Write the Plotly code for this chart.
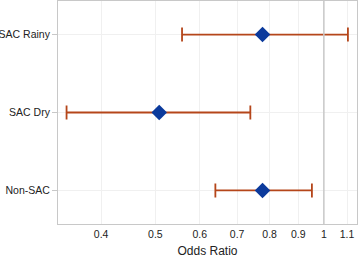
import plotly.graph_objects as go
import numpy as np

categories = ["SAC Rainy", "SAC Dry", "Non-SAC"]
estimate = [0.777, 0.508, 0.777]
lower = [0.558, 0.347, 0.640]
upper = [1.104, 0.739, 0.952]
tick_vals = [0.4, 0.5, 0.6, 0.7, 0.8, 0.9, 1, 1.1]
tick_text = ["0.4", "0.5", "0.6", "0.7", "0.8", "0.9", "1", "1.1"]

err_plus = [u - e for u, e in zip(upper, estimate)]
err_minus = [e - l for e, l in zip(estimate, lower)]

fig = go.Figure()
fig.add_trace(go.Scatter(
    x=estimate, y=categories, mode="markers",
    marker=dict(symbol="diamond", size=12, color="#0B3A9C"),
    error_x=dict(type="data", symmetric=False, array=err_plus, arrayminus=err_minus,
                 color="#B5461A", thickness=1.8, width=7),
    showlegend=False,
))
fig.add_vline(x=1, line=dict(color="#C8C8C8", width=1.5))

fig.update_layout(
    width=359, height=258,
    margin=dict(l=58, r=2, t=1, b=34, autoexpand=False),
    plot_bgcolor="white", paper_bgcolor="white",
    font=dict(family="Liberation Sans, Arial", size=11, color="#222222"),
    xaxis=dict(type="log", range=[np.log10(0.335), np.log10(1.146)],
               tickvals=tick_vals, ticktext=tick_text, automargin=False,
               tickfont=dict(size=10.5),
               showgrid=True, gridcolor="#F0F0F0",
               showline=True, linecolor="#C8C8C8", mirror=True,
               ticks="", title=dict(text="Odds Ratio", font=dict(size=12)),
               zeroline=False),
    yaxis=dict(categoryorder="array", categoryarray=categories[::-1],
               range=[-0.43, 2.43], automargin=False,
               tickfont=dict(size=10.5),
               showgrid=True, gridcolor="#F0F0F0",
               showline=True, linecolor="#C8C8C8", mirror=True,
               ticks="outside", ticklen=5, tickcolor="#C8C8C8",
               zeroline=False),
)
fig.write_html("out.html", config={"displayModeBar": False},
               post_script="document.body.style.margin='0px';")
